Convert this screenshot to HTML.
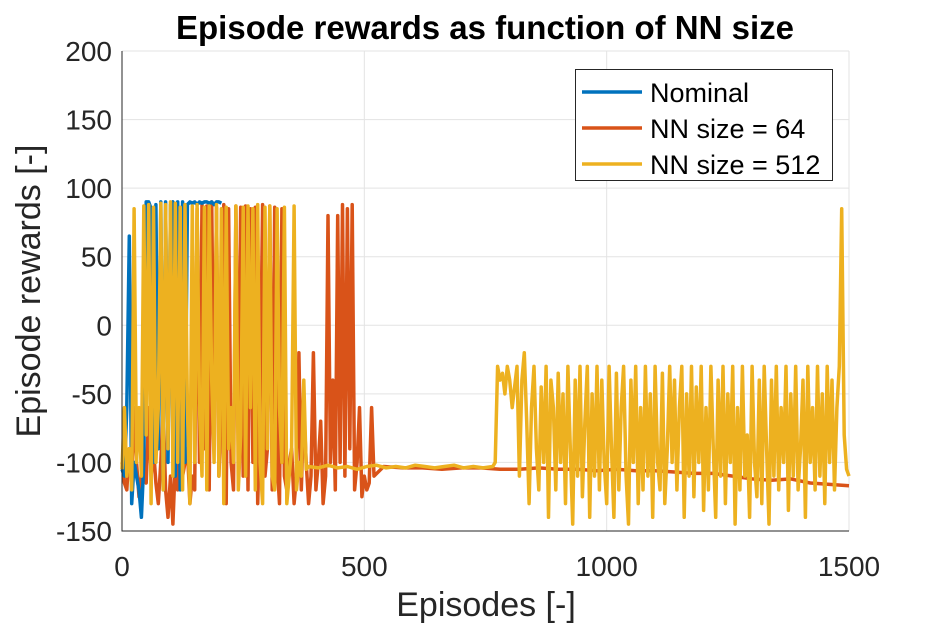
<!DOCTYPE html>
<html><head><meta charset="utf-8"><style>
body{margin:0;background:#fff;font-family:"Liberation Sans",sans-serif}
svg text{font-family:"Liberation Sans",sans-serif}
</style></head><body>
<svg id="c" width="938" height="625" xmlns="http://www.w3.org/2000/svg">
<rect width="938" height="625" fill="#fff"/>
<g id="grid"></g><g id="series"></g><g id="axes"></g><g id="legend"></g>
<text x="485" y="39" text-anchor="middle" font-size="33" font-weight="bold">Episode rewards as function of NN size</text>
<text x="486" y="616" text-anchor="middle" font-size="34" fill="#262626">Episodes [-]</text>
<text transform="translate(40,291) rotate(-90)" text-anchor="middle" font-size="34" fill="#262626">Episode rewards [-]</text>
</svg>
<script>
const xTicks=[0,500,1000,1500];
const yTicks=[-150,-100,-50,0,50,100,150,200];
const seriesNames=["Nominal","NN size = 64","NN size = 512"];
const nominalVals=[-105,-110,-60,65,-130,-100,-110,-120,-140,-100,90,90,85,-100,88,-90,90,-120,90,-100,88,90,-110,90,-120,90,-100,88,90,89,90,88,90,89,90,90,89,90,88,90,90,89];
const nn64A=[-100,-115,-120,-90,-110,-60,-100,-125,-110,-100,-115,
-60,-110,-90,-115,-130,-100,-60,-120,-140,-110,-145,-100,-120,-80,-110,-100,-90,-130,-110,-120,
85,-100,88,-90,87,-120,90,-80,86,-110,-60,88,-130,85,-100,-120,87,-90,86,-110,
87,-120,85,-100,86,-130,-60,88,-110,-90,87,-120,86,-100,-130,85,-110,-120,-100,-90,
-130,-110,-20,-120,-60,-100,-130,-110,-20,-120,-100,-70,-130,-110,80,-100,-40,-120,80,-100,
88,-110,85,-90,88,-120,-100,-60,-125,-110,-120,-115,-60,-110];
const nn64B=[-103,-104,-104,-105,-104,-104,-105,-105,-104,-105,-105,-106,-105,-106,-106,-107,-108,-108,-110,-112,-113,-112,-115,-116,-117];
const nn512A=[-105,-60,-110,-90,-120,85,-100,-60,-110,87,-80,
88,-130,86,-100,-60,89,-120,88,-90,90,-110,89,-100,86,-120,88,-60,-130,87,-100,
88,-60,-110,86,-120,87,-40,-100,88,-110,85,-130,86,-90,-60,-100,87,-120,-80,86,
-110,87,-60,85,-120,88,-100,-130,86,-90,87,-110,-120,85,-60,-100,86,-130,-110,-90,
87,-120,-100,-110,-40,-105];
const nn512B=[-103,-104,-102,-104,-103,-105,-103,-102,-104,-103,-104,-102,-103,-104,-103,-102,-104,-103,-104,-103];
const nn512C=[-100,-30,-40,-35,-50,-30,-40,-60,-45,-30,
-110,-40,-20,-70,-130,-60,-30,-90,-120,-45,
-100,-30,-140,-40,-60,-120,-35,-100,-50,-130,
-30,-90,-145,-40,-110,-30,-125,-70,-30,-140,
-50,-110,-30,-120,-40,-100,-130,-30,-90,-140,
-35,-120,-60,-30,-110,-145,-40,-100,-30,-130,
-60,-120,-30,-110,-50,-140,-30,-100,-120,-35,
-130,-90,-30,-100,-40,-120,-60,-30,-140,-50,
-110,-30,-125,-45,-100,-30,-135,-60,-120,-30,
-90,-140,-40,-110,-30,-130,-50,-100,-30,-145,
-60,-120,-30,-110,-80,-140,-30,-100,-125,-40,
-130,-30,-90,-145,-40,-110,-30,-120,-60,-100,
-30,-135,-50,-110,-30,-120,-90,-40,-140,-30,
-100,-60,-120,-30,-110,-50,-130,-30,-100,-40,
-120,-60,-30,85,-80,-105,-110];
const colors=["#0072BD","#D95319","#EDB120"];
const L=122,R=849,T=51,B=531;
const xs=v=>L+(v-0)/(1500-0)*(R-L);
const ys=v=>B-(v+150)/350*(B-T);
const NS="http://www.w3.org/2000/svg";
function mk(t,a,p){const e=document.createElementNS(NS,t);for(const k in a)e.setAttribute(k,a[k]);p.appendChild(e);return e;}
function seg(vals,start,step){return vals.map((v,i)=>[start+i*step,v]);}
const grid=document.getElementById('grid'),axes=document.getElementById('axes');
xTicks.forEach(t=>{const g=mk('line',{x1:xs(t),x2:xs(t),y1:T,y2:B,stroke:'#e3e3e3','stroke-width':1},grid);

const tx=mk('text',{x:xs(t),y:B+45,'text-anchor':'middle','font-size':28,fill:'#262626'},axes);tx.textContent=t;
});
yTicks.forEach(t=>{const g=mk('line',{x1:L,x2:R,y1:ys(t),y2:ys(t),stroke:'#e3e3e3','stroke-width':1},grid);

const tx=mk('text',{x:L-10,y:ys(t)+10,'text-anchor':'end','font-size':28,fill:'#262626'},axes);tx.textContent=t;
});
const ax=mk('path',{d:`M${L},${T}V${B}H${R}`,fill:'none',stroke:'#262626','stroke-width':1},axes);

const data=[seg(nominalVals,0,5),seg(nn64A,0,5).concat(seg(nn64B,540,40)),seg(nn512A,0,5).concat(seg(nn512B,385,20),seg(nn512C,770,5))];
const sg=document.getElementById('series');
[1,0,2].forEach(i=>{const d=data[i].map((p,j)=>(j?'L':'M')+xs(p[0]).toFixed(1)+','+ys(p[1]).toFixed(1)).join('');
const p=mk('path',{d:d,fill:'none',stroke:colors[i],'stroke-width':3.5,'stroke-linejoin':'round'},sg);
});
const lg=document.getElementById('legend');
const box=mk('rect',{x:575.5,y:69.5,width:257,height:111,fill:'#fff',stroke:'#262626','stroke-width':1},lg);

seriesNames.forEach((n,i)=>{const y=92+i*36;
const l=mk('line',{x1:582,x2:642,y1:y,y2:y,stroke:colors[i],'stroke-width':3.5},lg);

const t=mk('text',{x:650,y:y+10,'font-size':27,fill:'#000'},lg);t.textContent=n;
});
</script>
</body></html>
